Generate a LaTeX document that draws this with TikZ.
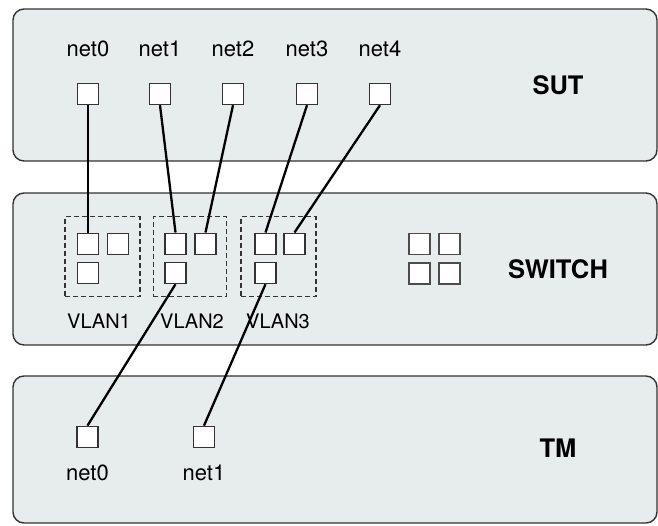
\documentclass[tikz,border=0pt]{standalone}
\usepackage{fontspec}
\setmainfont{TeX Gyre Heros}
\begin{document}
\begin{tikzpicture}[x=1pt,y=-1pt,
  panel/.style={draw=black!80, line width=1.4pt, fill=panelfill, rounded corners=11pt},
  port/.style={draw=black!80, line width=1.4pt, fill=white, minimum size=21pt, inner sep=0pt},
  vlanbox/.style={draw=black!80, line width=1.3pt, dash pattern=on 5pt off 3pt},
  wire/.style={line width=2.3pt, black},
  netlbl/.style={font=\fontsize{22}{25}\selectfont, inner sep=0pt},
  vlanlbl/.style={font=\fontsize{20}{23}\selectfont, inner sep=0pt},
  boldlbl/.style={font=\fontsize{25.5}{28}\selectfont\bfseries, inner sep=0pt}]
\definecolor{panelfill}{HTML}{E7ECEC}
\useasboundingbox (0,0) rectangle (658,525);
% panels
\draw[panel] (13,9) rectangle (657,161);
\draw[panel] (13,193) rectangle (657,345);
\draw[panel] (13,376) rectangle (657,523);
% SUT
\node[port] (s0) at (88,94) {};
\node[port] (s1) at (160,94) {};
\node[port] (s2) at (233,94) {};
\node[port] (s3) at (307,94) {};
\node[port] (s4) at (380,94) {};
\node[netlbl] (ls0) at (88,49) {net0};
\node[netlbl] (ls1) at (160,49) {net1};
\node[netlbl] (ls2) at (233,49) {net2};
\node[netlbl] (ls3) at (307,49) {net3};
\node[netlbl] (ls4) at (380,49) {net4};
\node[boldlbl] (sut) at (558,85) {SUT};
% SWITCH
\node[vlanbox, minimum width=75pt, minimum height=80pt, inner sep=0pt] (vb1) at (102.5,256.7) {};
\node[vlanbox, minimum width=73.4pt, minimum height=80pt, inner sep=0pt] (vb2) at (190,256.7) {};
\node[vlanbox, minimum width=75pt, minimum height=80pt, inner sep=0pt] (vb3) at (278.5,256.7) {};
\node[port] (v1a) at (88,243.7) {};
\node[port] (v1b) at (118,243.7) {};
\node[port] (v1c) at (88,273) {};
\node[port] (v2a) at (175.5,243.7) {};
\node[port] (v2b) at (205.5,243.7) {};
\node[port] (v2c) at (175.5,273) {};
\node[port] (v3a) at (265.5,243.7) {};
\node[port] (v3b) at (294.5,243.7) {};
\node[port] (v3c) at (265.5,273) {};
\node[vlanlbl] (lv1) at (99,321) {VLAN1};
\node[vlanlbl] (lv2) at (192,321) {VLAN2};
\node[vlanlbl] (lv3) at (278,321) {VLAN3};
\node[port, draw=black!70] (g1) at (419.5,243.7) {};
\node[port, draw=black!70] (g2) at (449.5,243.7) {};
\node[port, draw=black!70] (g3) at (419.5,273.3) {};
\node[port, draw=black!70] (g4) at (449.5,273.3) {};
\node[boldlbl] (sw) at (558,269) {SWITCH};
% TM
\node[port] (t0) at (87.5,436.8) {};
\node[port] (t1) at (204,436.8) {};
\node[netlbl] (lt0) at (87.5,472.5) {net0};
\node[netlbl] (lt1) at (204,472.5) {net1};
\node[boldlbl] (tm) at (558,448) {TM};
% wires
\draw[wire] (s0.south) -- (v1a.north);
\draw[wire] (s1.south) -- (v2a.north);
\draw[wire] (s2.south) -- (v2b.north);
\draw[wire] (s3.south) -- (v3a.north);
\draw[wire] (s4.south) -- (v3b.north);
\draw[wire] (v2c.south) -- (t0.north);
\draw[wire] (v3c.south) -- (t1.north);
\end{tikzpicture}
\end{document}
